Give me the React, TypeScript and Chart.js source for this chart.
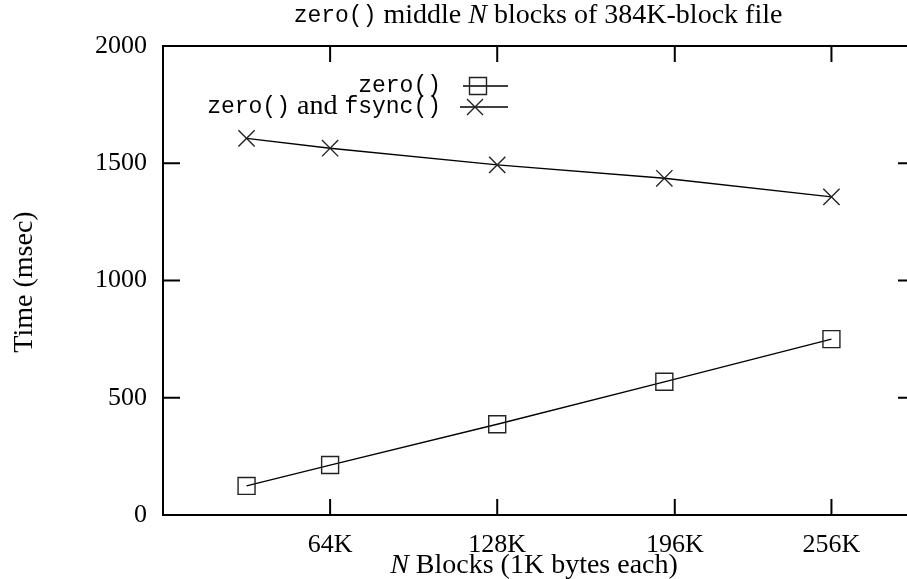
import React, { useEffect, useRef } from "react";
import { Chart, registerables } from "chart.js";

Chart.register(...registerables);

// ---- data ----
const blockCountsK = [32, 64, 128, 192, 256];
const zeroTimes = [124, 213, 387, 568, 750];
const zeroFsyncTimes = [1606, 1564, 1493, 1436, 1357];
const xTickValues = [64, 128, 196, 256];
const xTickLabels = ["64K", "128K", "196K", "256K"];
const yTickValues = [0, 500, 1000, 1500, 2000];
const seriesNames = ["zero()", "zero() and fsync()"];

const SERIF = "'Liberation Serif', 'Times New Roman', serif";
const MONO = "'Liberation Mono', 'Courier New', monospace";
const TICK_PX = 26;
const TEXT_PX = 28;
const MONO_PX = 23;

type Seg = { text: string; font: string };

function segWidth(ctx: CanvasRenderingContext2D, segs: Seg[]) {
  let w = 0;
  for (const s of segs) {
    ctx.font = s.font;
    w += ctx.measureText(s.text).width;
  }
  return w;
}

function drawSegs(ctx: CanvasRenderingContext2D, segs: Seg[], x: number, y: number) {
  let cx = x;
  ctx.textAlign = "left";
  ctx.textBaseline = "middle";
  for (const s of segs) {
    ctx.font = s.font;
    ctx.fillText(s.text, cx, y);
    cx += ctx.measureText(s.text).width;
  }
}

const serif = `${TEXT_PX}px ${SERIF}`;
const serifItalic = `italic ${TEXT_PX}px ${SERIF}`;
const mono = `${MONO_PX}px ${MONO}`;

const decorPlugin = {
  id: "gnuplotDecor",
  afterDatasetsDraw(chart: any) {
    const ctx: CanvasRenderingContext2D = chart.ctx;
    const { left, right, top, bottom } = chart.chartArea;
    const xs = chart.scales.x;
    const ys = chart.scales.y;
    ctx.save();
    ctx.strokeStyle = "#000";
    ctx.fillStyle = "#000";
    ctx.lineWidth = 2;
    // border
    ctx.strokeRect(left, top, right - left, bottom - top);
    // inward ticks
    const hTick = 17;
    const vTick = 16;
    ctx.beginPath();
    for (const v of yTickValues) {
      const py = ys.getPixelForValue(v);
      ctx.moveTo(left, py);
      ctx.lineTo(left + hTick, py);
      ctx.moveTo(right, py);
      ctx.lineTo(right - hTick, py);
    }
    for (const v of xTickValues) {
      const px = xs.getPixelForValue(v);
      ctx.moveTo(px, bottom);
      ctx.lineTo(px, bottom - vTick);
      ctx.moveTo(px, top);
      ctx.lineTo(px, top + vTick);
    }
    ctx.stroke();

    // title
    const titleSegs: Seg[] = [
      { text: "zero()", font: mono },
      { text: " middle ", font: serif },
      { text: "N", font: serifItalic },
      { text: " blocks of 384K-block file", font: serif },
    ];
    const tw = segWidth(ctx, titleSegs);
    drawSegs(ctx, titleSegs, 538 - tw / 2, 16);

    // x axis title
    const xtSegs: Seg[] = [
      { text: "N", font: serifItalic },
      { text: " Blocks (1K bytes each)", font: serif },
    ];
    const xw = segWidth(ctx, xtSegs);
    drawSegs(ctx, xtSegs, 534 - xw / 2, 566);

    // y axis title
    ctx.save();
    ctx.translate(25, 282);
    ctx.rotate(-Math.PI / 2);
    ctx.font = serif;
    ctx.textAlign = "center";
    ctx.textBaseline = "middle";
    ctx.fillText("Time (msec)", 0, 0);
    ctx.restore();

    // legend
    const legendRight = 441;
    const rows: { segs: Seg[]; y: number; style: string; lx0: number; lx1: number; mx: number }[] = [
      { segs: [{ text: seriesNames[0], font: mono }], y: 86, style: "rect", lx0: 463, lx1: 508, mx: 478 },
      {
        segs: [
          { text: "zero()", font: mono },
          { text: " and ", font: serif },
          { text: "fsync()", font: mono },
        ],
        y: 107,
        style: "crossRot",
        lx0: 460,
        lx1: 508,
        mx: 475,
      },
    ];
    for (const r of rows) {
      const w = segWidth(ctx, r.segs);
      drawSegs(ctx, r.segs, legendRight - w, r.y);
      ctx.lineWidth = 1.3;
      ctx.beginPath();
      ctx.moveTo(r.lx0, r.y);
      ctx.lineTo(r.lx1, r.y);
      ctx.stroke();
      ctx.lineWidth = 1.4;
      ctx.strokeStyle = "#222";
      ctx.beginPath();
      if (r.style === "rect") {
        ctx.rect(r.mx - 8.5, r.y - 8.5, 17, 17);
      } else {
        ctx.moveTo(r.mx - 8, r.y - 8);
        ctx.lineTo(r.mx + 8, r.y + 8);
        ctx.moveTo(r.mx - 8, r.y + 8);
        ctx.lineTo(r.mx + 8, r.y - 8);
      }
      ctx.stroke();
      ctx.strokeStyle = "#000";
    }
    ctx.restore();
  },
};

const CANVAS_W = 930;
const CANVAS_H = 579;

export default function App() {
  const ref = useRef<HTMLCanvasElement | null>(null);

  useEffect(() => {
    if (!ref.current) return;
    const chart = new Chart(ref.current, {
      type: "scatter",
      data: {
        datasets: [
          {
            label: seriesNames[0],
            data: blockCountsK.map((x, i) => ({ x, y: zeroTimes[i] })),
            showLine: true,
            borderColor: "#000",
            borderWidth: 1.3,
            pointStyle: "rect",
            pointRadius: 12,
            pointHoverRadius: 12,
            pointBorderColor: "#222",
            pointBackgroundColor: "rgba(0,0,0,0)",
            pointBorderWidth: 1.4,
          },
          {
            label: seriesNames[1],
            data: blockCountsK.map((x, i) => ({ x, y: zeroFsyncTimes[i] })),
            showLine: true,
            borderColor: "#000",
            borderWidth: 1.3,
            pointStyle: "crossRot",
            pointRadius: 11.5,
            pointHoverRadius: 11.5,
            pointBorderColor: "#222",
            pointBackgroundColor: "rgba(0,0,0,0)",
            pointBorderWidth: 1.4,
          },
        ],
      },
      options: {
        responsive: false,
        animation: false,
        devicePixelRatio: 1,
        layout: { padding: { top: 46, right: CANVAS_W - 915, left: 0, bottom: 0 } },
        plugins: {
          legend: { display: false },
          title: { display: false },
          tooltip: { enabled: false },
        },
        events: [],
        scales: {
          x: {
            type: "linear",
            min: 0,
            max: 288,
            grid: { display: false, drawTicks: false },
            border: { display: false },
            afterBuildTicks: (scale: any) => {
              scale.ticks = xTickValues.map((v) => ({ value: v }));
            },
            afterFit: (scale: any) => {
              scale.height = 64;
            },
            ticks: {
              autoSkip: false,
              maxRotation: 0,
              padding: 15,
              color: "#000",
              font: { family: SERIF, size: TICK_PX },
              callback: (v: any) => {
                const i = xTickValues.indexOf(Number(v));
                return i >= 0 ? xTickLabels[i] : "";
              },
            },
          },
          y: {
            type: "linear",
            min: 0,
            max: 2000,
            grid: { display: false, drawTicks: false },
            border: { display: false },
            afterBuildTicks: (scale: any) => {
              scale.ticks = yTickValues.map((v) => ({ value: v }));
            },
            afterFit: (scale: any) => {
              scale.width = 163;
            },
            ticks: {
              padding: 16,
              color: "#000",
              font: { family: SERIF, size: TICK_PX },
              callback: (v: any) => String(v),
            },
          },
        },
      },
      plugins: [decorPlugin],
    });
    return () => chart.destroy();
  }, []);

  return (
    <div
      style={{
        position: "absolute",
        left: 0,
        top: 0,
        width: 907,
        height: 579,
        overflow: "hidden",
        background: "#fff",
      }}
    >
      <canvas ref={ref} width={CANVAS_W} height={CANVAS_H} style={{ display: "block" }} />
    </div>
  );
}
